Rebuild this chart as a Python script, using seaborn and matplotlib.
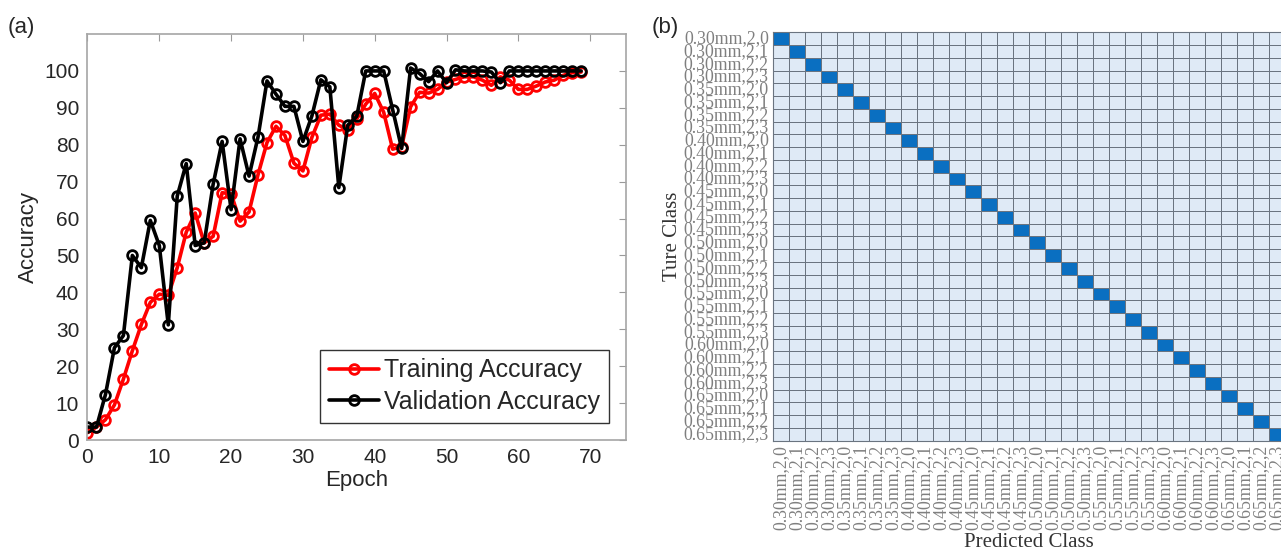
import numpy as np
import pandas as pd
import matplotlib
matplotlib.use("Agg")
import matplotlib.pyplot as plt
from matplotlib.colors import ListedColormap
import seaborn as sns

sns.set_style("white")
plt.rcParams['font.family'] = ['Liberation Sans', 'DejaVu Sans']

# (a) training curves
epoch = [0, 1.25, 2.5, 3.75, 5, 6.25, 7.5, 8.75, 10, 11.25,
         12.5, 13.75, 15, 16.25, 17.5, 18.75, 20, 21.25, 22.5, 23.75,
         25, 26.25, 27.5, 28.75, 30, 31.25, 32.5, 33.75, 35, 36.25,
         37.5, 38.75, 40, 41.25, 42.5, 43.75, 45, 46.25, 47.5, 48.75,
         50, 51.25, 52.5, 53.75, 55, 56.25, 57.5, 58.75, 60, 61.25,
         62.5, 63.75, 65, 66.25, 67.5, 68.75]
train_acc = [2, 3.5, 5.5, 9.5, 16.5, 24.2, 31.3, 37.3, 39.5, 39.2,
             46.7, 56.3, 61.5, 53.4, 55.2, 67, 66.7, 59.3, 61.8, 71.9,
             80.6, 85, 82.5, 75, 72.9, 82, 88, 88.3, 85.3, 84,
             87, 91, 93.9, 88.8, 78.8, 79.5, 90.3, 94.2, 94, 95,
             97, 97.7, 98.4, 98.4, 97.5, 96.1, 98.4, 97.5, 95, 95,
             95.9, 97, 97.5, 98.8, 99.5, 99.7]
val_acc = [3.5, 3.5, 12.3, 25, 28.3, 50, 46.7, 59.5, 52.7, 31.2,
           66.1, 74.9, 52.7, 53.4, 69.3, 80.9, 62.4, 81.6, 71.5, 82.1,
           97.3, 93.7, 90.4, 90.4, 80.9, 87.8, 97.6, 95.7, 68.4, 85.3,
           87.7, 100, 100, 100, 89.5, 79, 100.8, 99.3, 97.1, 100,
           96.8, 100.3, 100, 100, 100, 99.7, 96.8, 100, 100, 100,
           100, 100, 100, 100, 100, 100]
curve_names = ['Training Accuracy', 'Validation Accuracy']
curve_colors = ['red', 'black']

# (b) confusion matrix classes
thickness = ['0.30', '0.35', '0.40', '0.45', '0.50', '0.55', '0.60', '0.65']
ratio = ['2,0', '2,1', '2,2', '2,3']
class_names = [t + 'mm,' + r for t in thickness for r in ratio]
correct = [20, 20, 20, 20, 20, 20, 20, 20, 20, 20, 20, 20, 20, 20, 20, 20,
           20, 20, 20, 20, 20, 20, 20, 20, 20, 20, 20, 20, 20, 20, 20, 20]

fig = plt.figure(figsize=(12.81, 5.55), dpi=100)
ax1 = fig.add_axes([0.0683, 0.2072, 0.4204, 0.7315])
ax2 = fig.add_axes([0.6034, 0.206, 0.3997, 0.7359])

acc = pd.DataFrame({
    'Epoch': epoch * 2,
    'Accuracy': train_acc + val_acc,
    'Curve': [curve_names[0]] * len(epoch) + [curve_names[1]] * len(epoch),
})
sns.lineplot(data=acc, x='Epoch', y='Accuracy', hue='Curve', hue_order=curve_names,
             palette=curve_colors, marker='o', markersize=7, markerfacecolor='none',
             markeredgewidth=2, linewidth=2.6, legend=False, ax=ax1)
for ln, c in zip(ax1.lines, curve_colors):
    ln.set_markeredgecolor(c)

ax1.set_xlim(0, 75)
ax1.set_ylim(0, 110)
ax1.set_xticks(range(0, 80, 10))
ax1.set_yticks(range(0, 110, 10))
ax1.tick_params(direction='in', top=True, right=True, length=5, color='#9a9a9a',
                labelsize=15, labelcolor='#262626', pad=6)
for s in ax1.spines.values():
    s.set_color('#a6a6a6')
    s.set_linewidth(1.2)
ax1.set_xlabel('Epoch', fontsize=16, color='#262626', labelpad=2)
ax1.set_ylabel('Accuracy', fontsize=16, color='#262626', labelpad=4)
leg = ax1.legend(ax1.lines[:2], curve_names, loc='lower right', fontsize=18,
                 fancybox=False, framealpha=1, edgecolor='#333333',
                 handlelength=2.0, handletextpad=0.2, borderpad=0.35,
                 labelspacing=0.3, borderaxespad=0.7)
leg.get_frame().set_linewidth(1.0)

conf = pd.DataFrame(np.diag(correct), index=class_names, columns=class_names)
sns.heatmap(conf, ax=ax2, cmap=ListedColormap(['#dfeaf6', '#0a6fc1']), cbar=False,
            linewidths=0.5, linecolor='#6a7480', xticklabels=class_names,
            yticklabels=class_names)
for s in ax2.spines.values():
    s.set_visible(True)
    s.set_color('#6a7480')
    s.set_linewidth(0.8)
ax2.tick_params(length=0, pad=3)
ax2.set_yticklabels(class_names, rotation=0, family='Liberation Serif',
                    fontsize=12.8, color='#7f7f7f')
ax2.set_xticklabels(class_names, rotation=90, family='Liberation Serif',
                    fontsize=12.8, color='#7f7f7f')
ax2.set_xlabel('Predicted Class', family='Liberation Serif', fontsize=15,
               color='#333333', labelpad=2)
ax2.set_ylabel('Ture Class', family='Liberation Serif', fontsize=15,
               color='#333333', labelpad=1)

fig.text(0.006, 0.95, '(a)', fontsize=16, va='center', color='#262626')
fig.text(0.509, 0.95, '(b)', fontsize=16, va='center', color='#262626')

fig.savefig('out.png', dpi=100)
